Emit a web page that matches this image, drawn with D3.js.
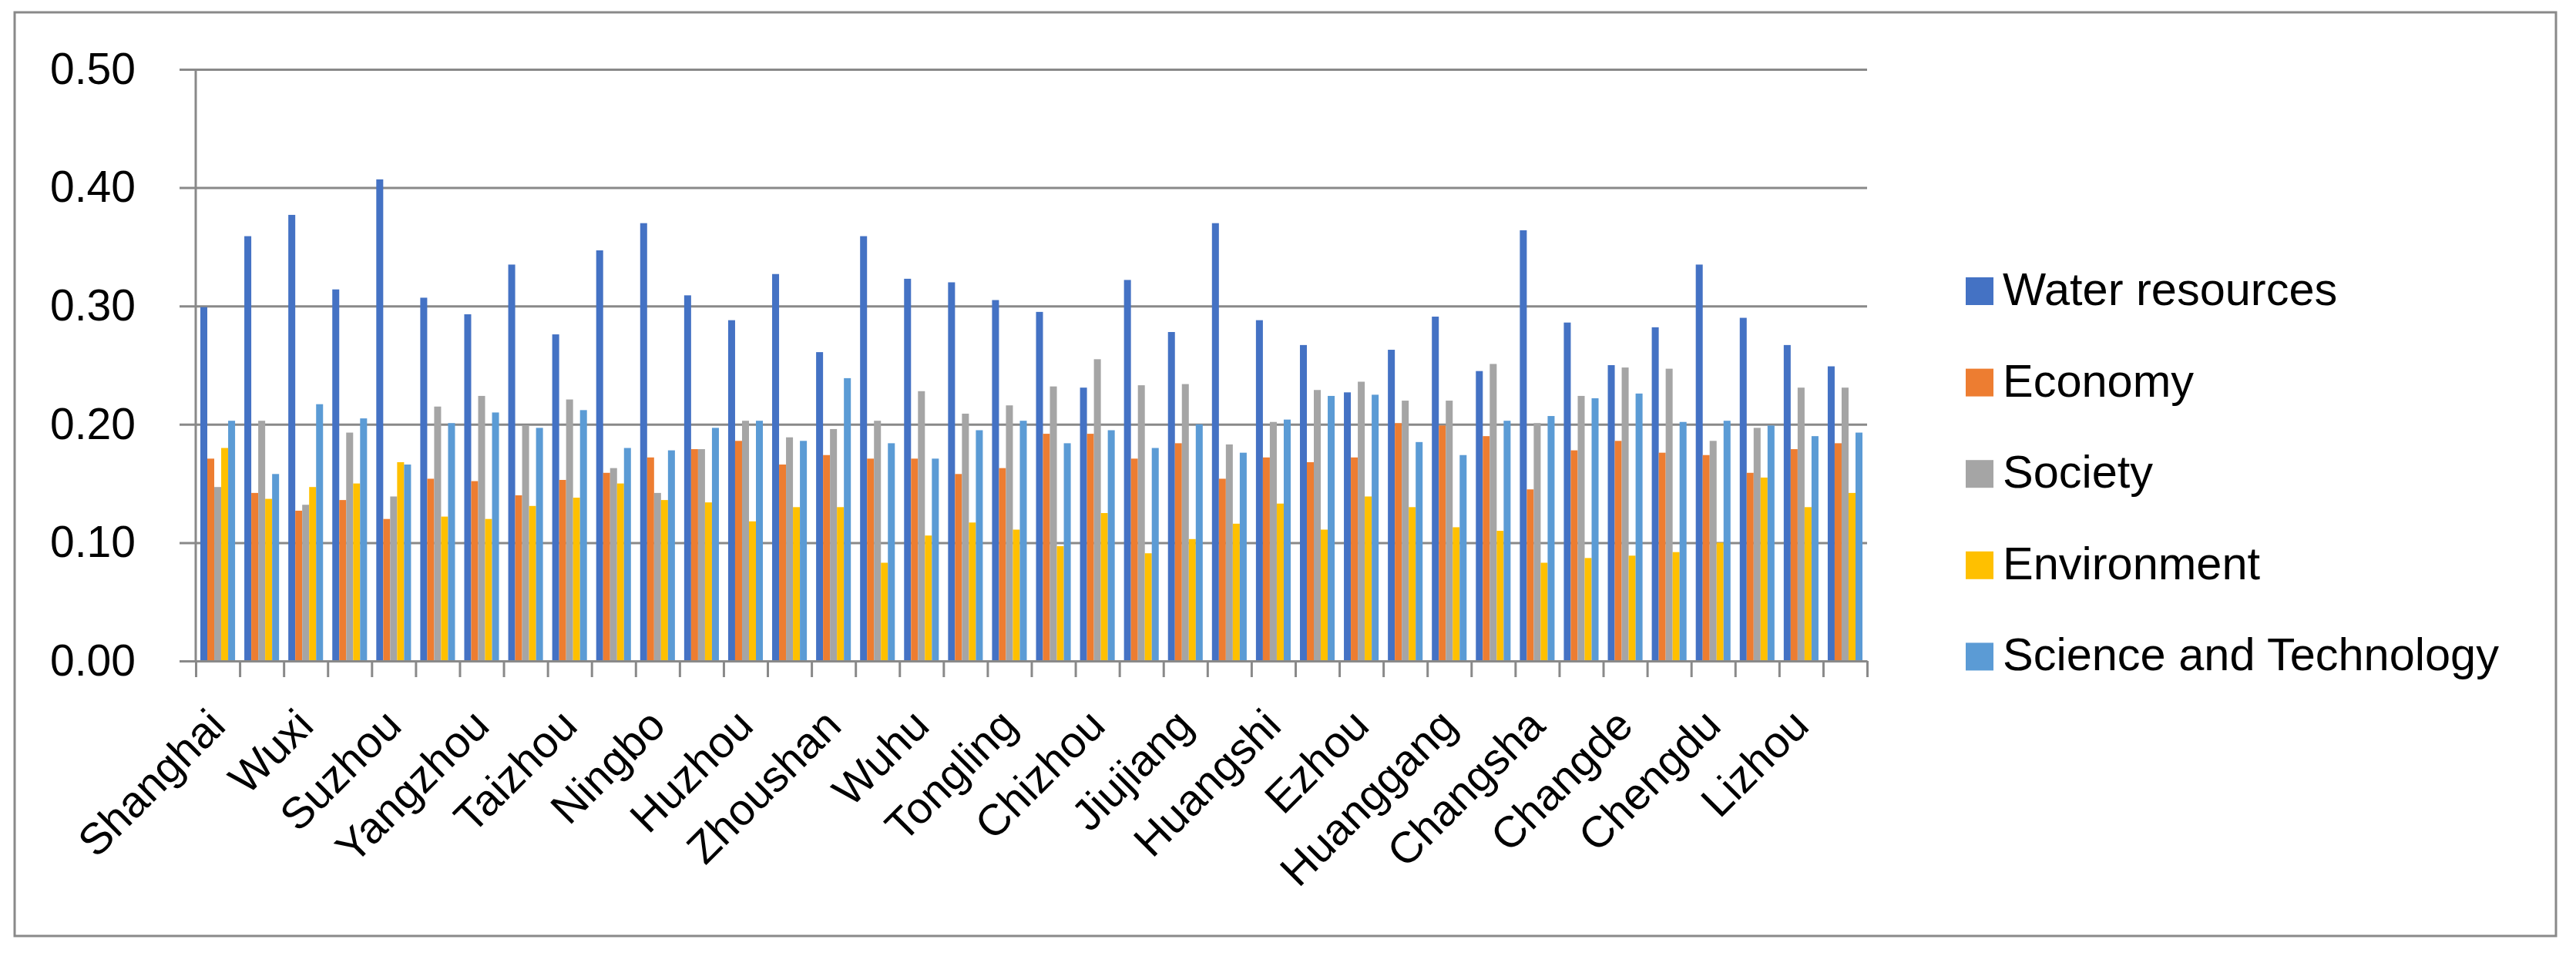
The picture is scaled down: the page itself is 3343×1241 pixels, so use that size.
<!DOCTYPE html>
<html>
<head>
<meta charset="utf-8">
<script src="https://cdn.jsdelivr.net/npm/d3@7/dist/d3.min.js"></script>
<style>
  html, body { margin: 0; padding: 0; background: #ffffff; }
  svg { display: block; }
  text { font-family: "Liberation Sans", Arial, sans-serif; fill: #000; }
</style>
</head>
<body>
<script>
// ---------------- DATA ----------------
const categories = [
  "Shanghai","Nanjing","Wuxi","Changzhou","Suzhou","Nantong","Yangzhou","Zhenjiang",
  "Taizhou","Hangzhou","Ningbo","Jiaxing","Huzhou","Shaoxing","Zhoushan","Hefei",
  "Wuhu","Ma'anshan","Tongling","Anqing","Chizhou","Nanchang","Jiujiang","Wuhan",
  "Huangshi","Yichang","Ezhou","Jingzhou","Huanggang","Yueyang","Changsha","Zhuzhou",
  "Changde","Chongqing","Chengdu","Panzhihua","Lizhou","Yibin"
];
// only every second category label is shown on the axis
const shownLabels = categories.filter((d, i) => i % 2 === 0);

const seriesNames = ["Water resources","Economy","Society","Environment","Science and Technology"];
const seriesColors = ["#4472C4","#ED7D31","#A5A5A5","#FFC000","#5B9BD5"];

const waterResources = [0.299,0.359,0.377,0.314,0.407,0.307,0.293,0.335,0.276,0.347,
  0.370,0.309,0.288,0.327,0.261,0.359,0.323,0.320,0.305,0.295,
  0.231,0.322,0.278,0.370,0.288,0.267,0.227,0.263,0.291,0.245,
  0.364,0.286,0.250,0.282,0.335,0.290,0.267,0.249];
const economy = [0.171,0.142,0.127,0.136,0.120,0.154,0.152,0.140,0.153,0.159,
  0.172,0.179,0.186,0.166,0.174,0.171,0.171,0.158,0.163,0.192,
  0.192,0.171,0.184,0.154,0.172,0.168,0.172,0.201,0.199,0.190,
  0.145,0.178,0.186,0.176,0.174,0.159,0.179,0.184];
const society = [0.147,0.203,0.132,0.193,0.139,0.215,0.224,0.199,0.221,0.163,
  0.142,0.179,0.203,0.189,0.196,0.203,0.228,0.209,0.216,0.232,
  0.255,0.233,0.234,0.183,0.202,0.229,0.236,0.220,0.220,0.251,
  0.201,0.224,0.248,0.247,0.186,0.197,0.231,0.231];
const environment = [0.180,0.137,0.147,0.150,0.168,0.122,0.120,0.131,0.138,0.150,
  0.136,0.134,0.118,0.130,0.130,0.083,0.106,0.117,0.111,0.097,
  0.125,0.091,0.103,0.116,0.133,0.111,0.139,0.130,0.113,0.110,
  0.083,0.087,0.089,0.092,0.100,0.155,0.130,0.142];
const scienceTech = [0.203,0.158,0.217,0.205,0.166,0.201,0.210,0.197,0.212,0.180,
  0.178,0.197,0.203,0.186,0.239,0.184,0.171,0.195,0.203,0.184,
  0.195,0.180,0.200,0.176,0.204,0.224,0.225,0.185,0.174,0.203,
  0.207,0.222,0.226,0.202,0.203,0.199,0.190,0.193];

const seriesValues = [waterResources, economy, society, environment, scienceTech];
const yTicks = [0, 0.1, 0.2, 0.3, 0.4, 0.5];

// ---------------- LAYOUT ----------------
const W = 3343, H = 1241;
const plotL = 254, plotR = 2423, plotT = 90, plotB = 858;
const tickLen = 21;
const fontSize = 57;

const svg = d3.select("body").append("svg").attr("width", W).attr("height", H);
svg.append("rect").attr("width", W).attr("height", H).attr("fill", "#fff");

// outer chart border
svg.append("rect")
  .attr("x", 19).attr("y", 16).attr("width", 3317 - 19).attr("height", 1215 - 16)
  .attr("fill", "none").attr("stroke", "#898989").attr("stroke-width", 3);

const y = d3.scaleLinear().domain([0, 0.5]).range([plotB, plotT]);
const x0 = d3.scaleBand().domain(categories).range([plotL, plotR])
  .paddingInner(0.21).paddingOuter(0.105);
const x1 = d3.scaleBand().domain(seriesNames).range([0, x0.bandwidth()]).padding(0);

// gridlines (extend left as outside tick marks)
svg.append("g")
  .attr("transform", `translate(${plotR},0)`)
  .call(d3.axisLeft(y).tickValues(yTicks).tickSize(plotR - plotL + tickLen).tickFormat(""))
  .call(g => g.select(".domain").remove())
  .call(g => g.selectAll(".tick line").attr("stroke", "#898989").attr("stroke-width", 3));

// y tick labels
svg.append("g")
  .attr("transform", `translate(${plotL},0)`)
  .call(d3.axisLeft(y).tickValues(yTicks).tickSize(0).tickPadding(plotL - 176)
        .tickFormat(d3.format(".2f")))
  .call(g => g.select(".domain").remove())
  .call(g => g.selectAll("text").attr("font-size", fontSize)
        .attr("font-family", "'Liberation Sans', Arial, sans-serif").attr("fill", "#000"));

// bars
const groups = svg.append("g").selectAll("g")
  .data(categories)
  .join("g")
  .attr("transform", d => `translate(${x0(d)},0)`);

groups.selectAll("rect")
  .data((d, i) => seriesNames.map((s, j) => ({ s, j, v: seriesValues[j][i] })))
  .join("rect")
  .attr("x", d => x1(d.s))
  .attr("width", x1.bandwidth())
  .attr("y", d => y(d.v))
  .attr("height", d => y(0) - y(d.v))
  .attr("fill", d => seriesColors[d.j]);

// y axis line
svg.append("line")
  .attr("x1", plotL).attr("x2", plotL).attr("y1", plotT).attr("y2", plotB)
  .attr("stroke", "#898989").attr("stroke-width", 3);

// x axis with boundary tick marks
const xb = d3.scaleLinear().domain([0, categories.length]).range([plotL, plotR]);
svg.append("g")
  .attr("transform", `translate(0,${plotB})`)
  .call(d3.axisBottom(xb).tickValues(d3.range(0, categories.length + 1))
        .tickSize(tickLen).tickSizeOuter(0).tickFormat(""))
  .call(g => g.select(".domain").attr("stroke", "#898989").attr("stroke-width", 3))
  .call(g => g.selectAll(".tick line").attr("stroke", "#898989").attr("stroke-width", 3));

// x labels (rotated)
const xLabelG = svg.append("g");
xLabelG.selectAll("text")
  .data(shownLabels)
  .join("text")
  .attr("transform", d => `translate(${x0(d) + x0.bandwidth() / 2 + 13},945) rotate(-45)`)
  .attr("text-anchor", "end")
  .attr("font-size", fontSize)
  .text(d => d);

// legend
const legend = svg.append("g");
const legItems = legend.selectAll("g")
  .data(seriesNames)
  .join("g")
  .attr("transform", (d, i) => `translate(2551,${360 + i * 118.6})`);
legItems.append("rect")
  .attr("width", 36).attr("height", 36)
  .attr("fill", (d, i) => seriesColors[i]);
legItems.append("text")
  .attr("x", 48).attr("y", 36)
  .attr("font-size", 59.5)
  .text(d => d);
</script>
</body>
</html>
